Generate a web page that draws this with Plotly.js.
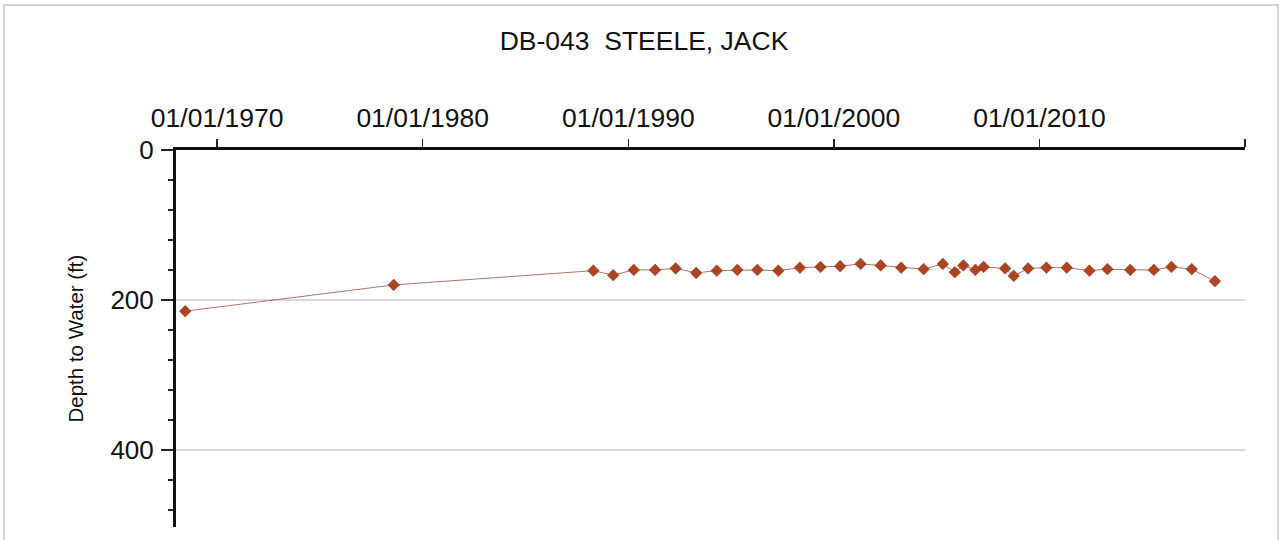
<!DOCTYPE html>
<html>
<head>
<meta charset="utf-8">
<script src="https://cdn.plot.ly/plotly-3.0.1.min.js"></script>
<style>
  html, body { margin: 0; padding: 0; background: #ffffff; }
  #wrap { position: relative; width: 1282px; height: 540px; }
  #chart { width: 1282px; height: 540px; }
  #frame { position: absolute; left: 3px; top: 4px; width: 1276px; height: 540px;
           border: 2px solid #d4d4d4; border-bottom: none; box-sizing: border-box; pointer-events: none; }
</style>
</head>
<body>
<div id="wrap">
  <div id="chart"></div>
  <div id="frame"></div>
</div>
<script>
// Measurement dates and depth to water (ft)
const dates = [
  "1968-06-13", "1978-08-04", "1988-04-20", "1989-04-08", "1990-04-08",
  "1991-04-22", "1992-04-22", "1993-04-20", "1994-04-22", "1995-04-22",
  "1996-04-12", "1997-04-20", "1998-05-08", "1999-05-08", "2000-04-22",
  "2001-04-20", "2002-04-12", "2003-04-12", "2004-05-15", "2005-04-20",
  "2005-11-20", "2006-04-20", "2006-11-20", "2007-04-16", "2008-05-01",
  "2008-10-01", "2009-06-13", "2010-05-05", "2011-05-01", "2012-06-06",
  "2013-04-22", "2014-06-03", "2015-07-26", "2016-06-03", "2017-05-30",
  "2018-07-15"
];
const depths = [
  215, 180, 161, 167, 160,
  160, 158, 164, 161, 160,
  160, 161, 157, 156, 155,
  152, 154, 157, 159, 152,
  163, 154, 160, 156, 158,
  168, 158, 157, 157, 161,
  159, 160, 160, 156, 159,
  175
];
const chartTitle = "DB-043  STEELE, JACK";
const yTitle = "Depth to Water (ft)";

const trace = {
  x: dates,
  y: depths,
  type: "scatter",
  mode: "lines+markers",
  line: { color: "#b07466", width: 1 },
  marker: { symbol: "diamond", size: 9, color: "#ad441f", line: { color: "#873821", width: 0.5 } },
  hoverinfo: "x+y"
};

const layout = {
  width: 1282,
  height: 540,
  margin: { l: 176, r: 37, t: 150, b: 13 },
  paper_bgcolor: "#ffffff",
  plot_bgcolor: "#ffffff",
  showlegend: false,
  font: { family: "Liberation Sans, Arial, sans-serif", color: "#111111" },
  title: {
    text: chartTitle,
    font: { size: 26.5, family: "Liberation Sans, Arial, sans-serif", color: "#111111" },
    x: 644 / 1282, xref: "container", xanchor: "center",
    y: 1 - 41 / 540, yref: "container", yanchor: "middle"
  },
  xaxis: {
    type: "date",
    side: "top",
    range: ["1968-01-01", "2020-01-01"],
    tick0: "1970-01-01",
    dtick: "M120",
    tickformat: "%m/%d/%Y",
    ticks: "outside",
    ticklen: 8,
    tickwidth: 1.5,
    tickcolor: "#222222",
    ticklabelstandoff: 1,
    tickfont: { size: 26.5, color: "#111111" },
    showline: true,
    linecolor: "#111111",
    linewidth: 3,
    showgrid: false,
    zeroline: false,
    fixedrange: true
  },
  yaxis: {
    range: [503, 0],
    tick0: 0,
    dtick: 200,
    ticks: "outside",
    ticklen: 12,
    tickwidth: 1.5,
    tickcolor: "#222222",
    tickfont: { size: 26, color: "#111111" },
    ticklabelstandoff: 2,
    minor: { dtick: 40, ticks: "outside", ticklen: 5, tickwidth: 1.5, tickcolor: "#222222", showgrid: false },
    showline: true,
    linecolor: "#111111",
    linewidth: 3,
    showgrid: true,
    gridcolor: "#d9d9d9",
    gridwidth: 1.5,
    zeroline: false,
    fixedrange: true
  },
  annotations: [{
    text: yTitle,
    xref: "paper", yref: "paper",
    x: (75 - 176) / 1069, y: 0.5,
    xanchor: "center", yanchor: "middle",
    textangle: -90,
    showarrow: false,
    font: { size: 20.5, family: "Liberation Sans, Arial, sans-serif", color: "#111111" }
  }]
};

Plotly.newPlot("chart", [trace], layout, { displayModeBar: false, staticPlot: true });
</script>
</body>
</html>
